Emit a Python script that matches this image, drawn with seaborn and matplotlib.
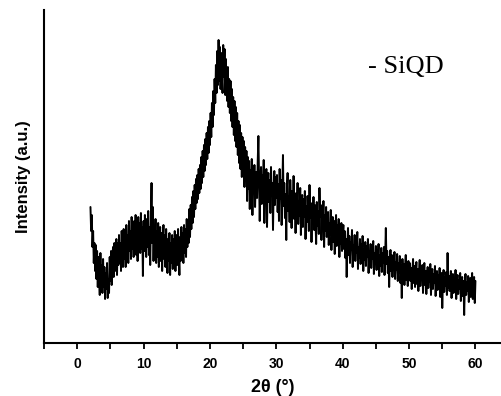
import numpy as np
import pandas as pd
import seaborn as sns
import matplotlib
matplotlib.use('Agg')
import matplotlib.pyplot as plt
from matplotlib.ticker import MultipleLocator

sns.set_style('ticks')
plt.rcParams['font.family'] = ['Liberation Sans', 'DejaVu Sans']
plt.rcParams['text.color'] = 'black'
plt.rcParams['axes.labelcolor'] = 'black'
plt.rcParams['axes.edgecolor'] = 'black'
plt.rcParams['xtick.color'] = 'black'

# XRD scan of SiQD, 0.1 deg step (a.u.)
step = 0.1

intensity_02_10 = [
    136, 112, 128, 96, 112, 80, 100, 72, 98, 64,
    92, 56, 86, 66, 48, 90, 60, 78, 50, 84,
    56, 76, 44, 70, 54, 80, 45, 64, 50, 86,
    62, 92, 58, 84, 96, 66, 100, 72, 90, 104,
    68, 100, 78, 108, 80, 100, 72, 112, 88, 76,
    114, 84, 104, 76, 118, 88, 108, 80, 122, 92,
    112, 84, 126, 94, 116, 86, 122, 98, 128, 88,
    114, 82, 126, 98, 120, 90, 130, 94, 116, 67,
    122,
]

intensity_10_20 = [
    92, 128, 100, 86, 124, 96, 132, 88, 116, 78,
    124, 160, 100, 136, 82, 116, 90, 124, 80, 112,
    86, 120, 76, 106, 116, 82, 110, 72, 104, 118,
    84, 108, 76, 114, 92, 70, 104, 82, 110, 68,
    100, 80, 108, 74, 104, 84, 112, 72, 98, 108,
    78, 114, 86, 68, 106, 82, 116, 88, 110, 80,
    118, 90, 114, 86, 124, 96, 122, 100, 134, 106,
    138, 114, 146, 120, 152, 126, 158, 134, 164, 140,
    168, 144, 174, 150, 178, 154, 186, 160, 192, 166,
    198, 172, 204, 178, 210, 184, 216, 190, 222, 198,
]

intensity_20_30 = [
    230, 206, 240, 216, 252, 228, 264, 240, 278, 250,
    292, 258, 303, 262, 296, 254, 290, 264, 250, 298,
    266, 294, 248, 284, 254, 242, 276, 236, 264, 230,
    262, 222, 254, 216, 246, 208, 242, 202, 236, 196,
    230, 188, 222, 180, 218, 174, 210, 166, 206, 172,
    202, 156, 196, 162, 192, 142, 186, 154, 182, 134,
    173, 158, 184, 128, 167, 151, 178, 136, 162, 171,
    145, 182, 207, 165, 122, 160, 176, 139, 168, 152,
    183, 120, 161, 147, 174, 116, 158, 170, 141, 163,
    130, 176, 149, 160, 113, 155, 172, 138, 166, 145,
]

intensity_30_40 = [
    168, 131, 159, 122, 174, 144, 163, 118, 152, 188,
    137, 160, 125, 149, 103, 156, 170, 132, 147, 121,
    163, 138, 115, 152, 129, 167, 124, 145, 110, 150,
    133, 160, 119, 142, 127, 155, 108, 139, 148, 116,
    144, 126, 152, 104, 137, 121, 147, 131, 112, 158,
    125, 140, 101, 134, 119, 146, 113, 138, 123, 99,
    141, 117, 132, 109, 155, 126, 138, 103, 130, 115,
    142, 96, 128, 112, 136, 106, 123, 131, 98, 120,
    108, 133, 93, 117, 126, 101, 122, 89, 114, 128,
    97, 118, 105, 124, 86, 111, 99, 120, 92, 107,
]

intensity_40_50 = [
    118, 94, 112, 85, 104, 66, 99, 115, 88, 107,
    80, 101, 93, 113, 76, 98, 87, 108, 82, 102,
    90, 111, 74, 96, 85, 104, 79, 99, 88, 107,
    72, 94, 83, 101, 77, 97, 86, 104, 70, 92,
    81, 99, 75, 95, 84, 102, 69, 90, 79, 97,
    73, 93, 82, 99, 67, 88, 77, 95, 71, 90,
    80, 96, 68, 87, 115, 79, 92, 70, 86, 56,
    83, 93, 72, 88, 66, 84, 76, 91, 64, 81,
    73, 89, 62, 80, 70, 87, 60, 78, 45, 84,
    68, 79, 58, 76, 88, 63, 74, 57, 82, 69,
]

intensity_50_60 = [
    80, 62, 75, 54, 72, 84, 60, 77, 56, 71,
    81, 59, 74, 52, 70, 83, 57, 73, 63, 78,
    50, 68, 80, 58, 72, 49, 66, 76, 55, 70,
    61, 79, 48, 67, 74, 54, 69, 60, 77, 47,
    65, 72, 53, 68, 58, 75, 46, 63, 70, 35,
    62, 73, 51, 66, 57, 71, 48, 90, 55, 67,
    52, 64, 72, 45, 61, 69, 50, 65, 56, 73,
    44, 60, 68, 49, 63, 54, 70, 42, 59, 66,
    47, 62, 28, 57, 69, 48, 61, 52, 67, 41,
    58, 65, 46, 60, 70, 44, 57, 66, 40, 62,
]

segment_starts = [2.0, 10.1, 20.1, 30.1, 40.1, 50.1]
segments = [intensity_02_10, intensity_10_20, intensity_20_30,
            intensity_30_40, intensity_40_50, intensity_50_60]

frames = []
for start, vals in zip(segment_starts, segments):
    frames.append(pd.DataFrame({
        'two_theta': start + step * np.arange(len(vals)),
        'intensity': vals,
    }))
df = pd.concat(frames, ignore_index=True)

fig = plt.figure(figsize=(5.02, 3.96), dpi=100)
ax = fig.add_axes([44 / 502, 53 / 396, 458 / 502, 333 / 396])

sns.lineplot(data=df, x='two_theta', y='intensity', color='black',
             linewidth=1.4, estimator=None, sort=False, ax=ax)

ax.set_xlim(-5, 64)
ax.set_ylim(0, 333)
ax.xaxis.set_major_locator(MultipleLocator(10))
ax.xaxis.set_minor_locator(MultipleLocator(5))
ax.set_yticks([])
ax.tick_params(axis='x', which='both', direction='out', length=4,
               width=1.3, pad=6, labelsize=10, colors='black')
for lab in ax.get_xticklabels():
    lab.set_fontweight('bold')

for side in ['top', 'right']:
    ax.spines[side].set_visible(False)
for side in ['left', 'bottom']:
    ax.spines[side].set_linewidth(1.5)
    ax.spines[side].set_color('black')

ax.set_xlabel('2θ (°)', fontsize=13, fontweight='bold', labelpad=6,
              color='black')
ax.set_ylabel('Intensity (a.u.)', fontsize=12, fontweight='bold', labelpad=9,
              color='black')

ax.text(0.707, 0.812, '- SiQD', transform=ax.transAxes, ha='left',
        va='baseline', fontsize=19, color='black',
        family=['Liberation Serif', 'DejaVu Serif'])

fig.savefig('out.png', dpi=100)
